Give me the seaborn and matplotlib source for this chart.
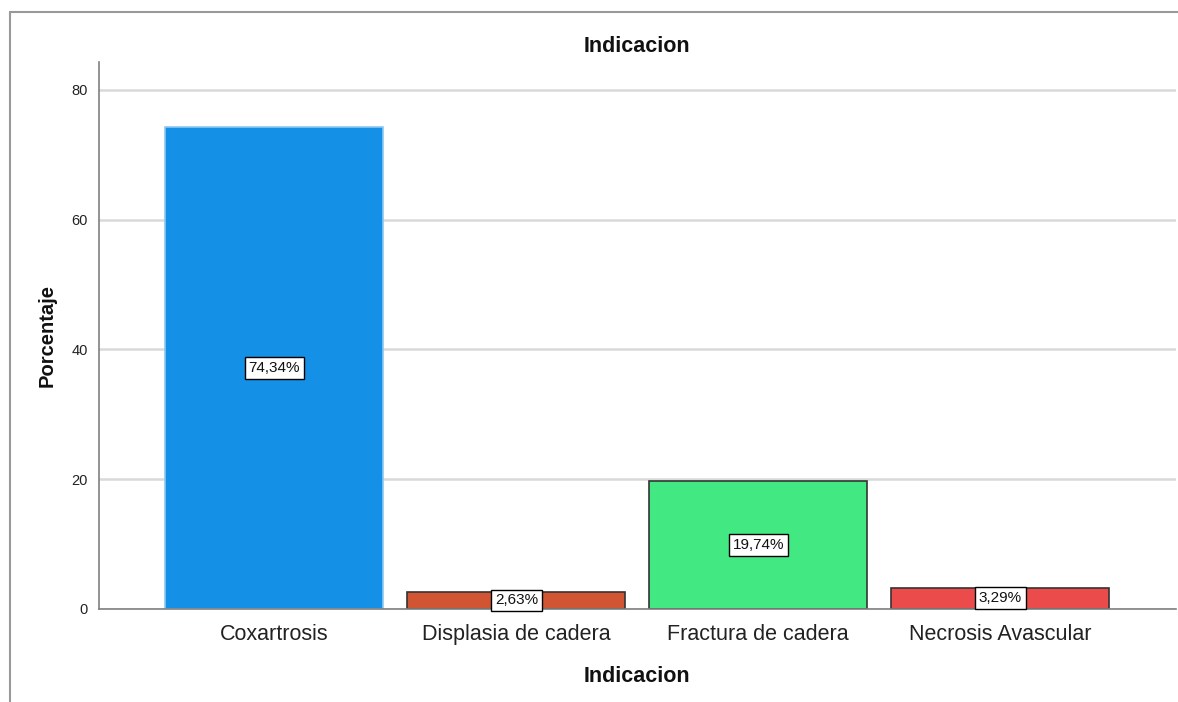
import matplotlib
matplotlib.use('Agg')
import matplotlib.pyplot as plt
import seaborn as sns
import pandas as pd
from matplotlib.lines import Line2D

categorias = ['Coxartrosis', 'Displasia de cadera', 'Fractura de cadera', 'Necrosis Avascular']
porcentajes = [74.34, 2.63, 19.74, 3.29]
colores = ['#1490E6', '#D15532', '#42E882', '#EC4B4B']
bordes = ['#8cc8f2', '#333333', '#333333', '#333333']

df = pd.DataFrame({'Indicacion': categorias, 'Porcentaje': porcentajes})

sns.set_style('white')
plt.rcParams['font.family'] = ['Liberation Sans', 'DejaVu Sans']

fig = plt.figure(figsize=(11.78, 7.02), dpi=100)
ax = fig.add_axes([0.084, 0.1325, 0.914, 0.7792])

sns.barplot(data=df, x='Indicacion', y='Porcentaje', hue='Indicacion',
            palette=colores, saturation=1, width=0.9, legend=False, ax=ax, zorder=2)

for patch, ec in zip(ax.patches, bordes):
    patch.set_edgecolor(ec)
    patch.set_linewidth(1.2)

for cont in ax.containers:
    labels = [f'{v:.2f}%'.replace('.', ',') for v in cont.datavalues]
    anns = ax.bar_label(cont, labels=labels, label_type='center', fontsize=11,
                        color='#111111', zorder=5)
    for a in anns:
        a.set_bbox(dict(boxstyle='square,pad=0.25', facecolor='white',
                        edgecolor='black', linewidth=1))
        a.set_clip_on(False)

ax.set_ylim(0, 84.3)
ax.set_xlim(-0.725, 3.725)
ax.set_yticks([0, 20, 40, 60, 80])
ax.yaxis.grid(True, color='#d9d9d9', linewidth=1.8, zorder=0)
ax.set_axisbelow(True)

for s in ['top', 'right']:
    ax.spines[s].set_visible(False)
for s in ['left', 'bottom']:
    ax.spines[s].set_color('#808080')
    ax.spines[s].set_linewidth(1.2)

ax.tick_params(axis='y', length=0, labelsize=10.5, pad=8, labelcolor='#222222')
ax.tick_params(axis='x', length=0, labelsize=15.5, pad=11, labelcolor='#222222')

ax.set_title('Indicacion', fontsize=15.5, fontweight='bold', pad=7, color='#111111')
ax.set_xlabel('Indicacion', fontsize=15.5, fontweight='bold', labelpad=15, color='#111111')
ax.set_ylabel('Porcentaje', fontsize=14.5, fontweight='bold', labelpad=11, color='#111111')

# marco exterior
fig.add_artist(Line2D([10 / 1178, 1.0], [1 - 12 / 702, 1 - 12 / 702],
                      transform=fig.transFigure, color='#999999', linewidth=1.5))
fig.add_artist(Line2D([10 / 1178, 10 / 1178], [0, 1 - 12 / 702],
                      transform=fig.transFigure, color='#999999', linewidth=1.5))

fig.savefig('out.png', dpi=100)
